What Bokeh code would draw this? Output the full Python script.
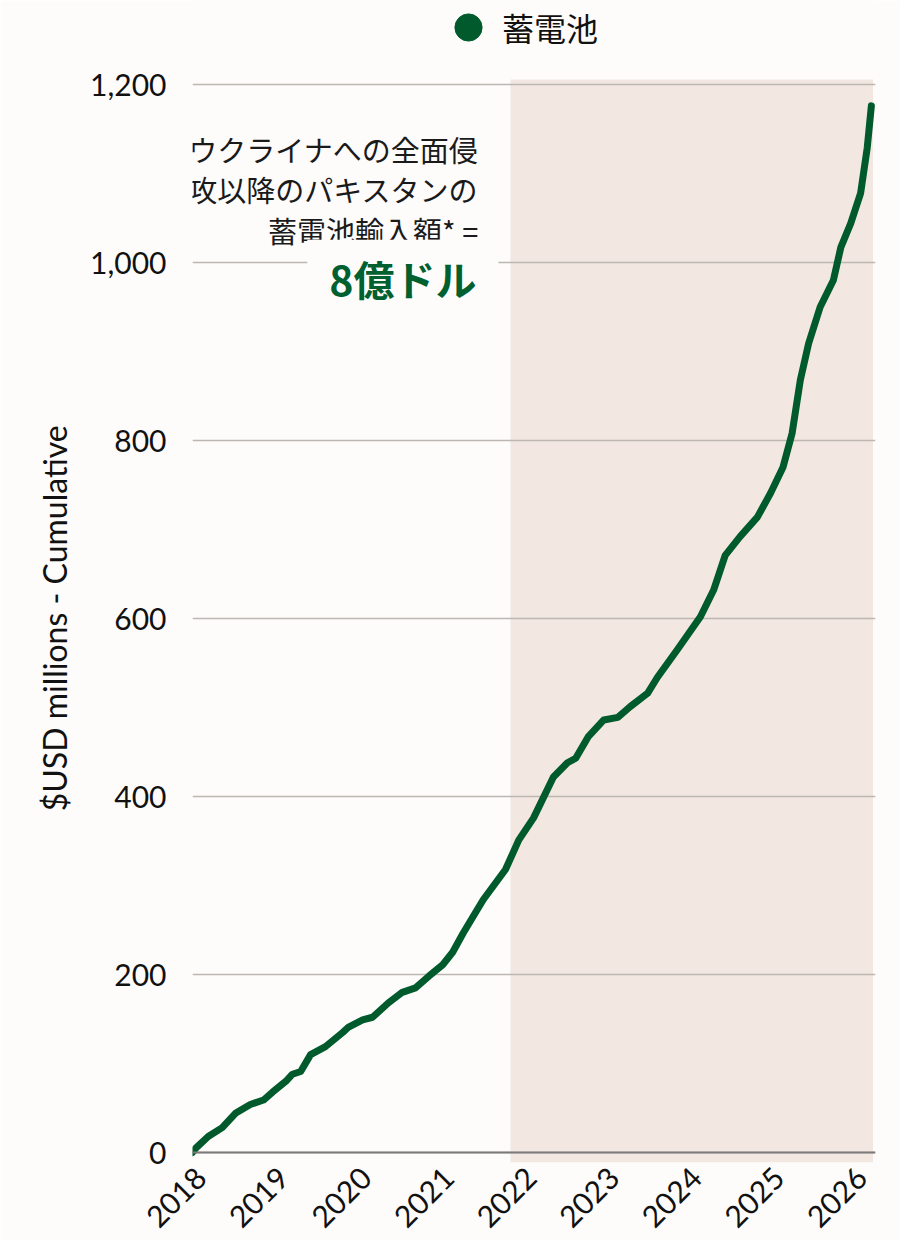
from math import pi
from bokeh.plotting import figure
from bokeh.models import (BoxAnnotation, Span, Label, Legend, LegendItem,
                          FixedTicker, NumeralTickFormatter, Range1d, ColumnDataSource)
from bokeh.embed import file_html
from bokeh.resources import INLINE

# ---- data ----
years = [2017.90, 2017.94, 2018.09, 2018.26, 2018.42, 2018.60, 2018.76, 2018.87,
         2019.03, 2019.11, 2019.21, 2019.33, 2019.51, 2019.72, 2019.79, 2019.96,
         2020.08, 2020.27, 2020.44, 2020.60, 2020.76, 2020.93, 2021.05, 2021.18,
         2021.42, 2021.69, 2021.85, 2022.03, 2022.27, 2022.44, 2022.54, 2022.69,
         2022.88, 2023.05, 2023.20, 2023.41, 2023.53, 2023.77, 2024.05, 2024.21,
         2024.35, 2024.53, 2024.74, 2024.90, 2025.05, 2025.16, 2025.26, 2025.36,
         2025.50, 2025.66, 2025.75, 2025.87, 2025.99, 2026.07, 2026.12]
cumulative = [0, 5, 18, 28, 44, 54, 59, 68,
              80, 88, 91, 110, 119, 135, 141, 149,
              152, 168, 180, 185, 198, 211, 225, 247,
              284, 318, 351, 376, 422, 438, 443, 467,
              486, 489, 501, 516, 534, 565, 602, 632,
              671, 692, 714, 741, 770, 808, 868, 909,
              950, 980, 1017, 1044, 1078, 1129, 1176]
series_name = "蓄電池"
x_ticks = [2018, 2019, 2020, 2021, 2022, 2023, 2024, 2025, 2026]
y_ticks = [0, 200, 400, 600, 800, 1000, 1200]
shade_start = 2021.75
shade_end = 2026.14
shade_top = 1205.7
note_lines = ["ウクライナへの全面侵", "攻以降のパキスタンの", "蓄電池輸入額* ="]
note_value = "8億ドル"
y_title = "$USD millions - Cumulative"

BG = "#fdfcfa"
GREEN = "#005a2c"
TXT = "#111111"
FONT = "Lato"
CJK = "Noto Sans CJK JP"

Y0 = -11.2
p = figure(width=900, height=1240, output_backend="svg", toolbar_location=None,
           x_range=Range1d(2017.9, 2026.17), y_range=Range1d(Y0, 1294.4),
           min_border_left=192, min_border_right=25, min_border_top=0,
           min_border_bottom=77)
p.background_fill_color = BG
p.border_fill_color = BG
p.outline_line_color = None

# shaded period
shade = BoxAnnotation(left=shade_start, right=shade_end, top=shade_top,
                      fill_color="#f3e7e1", fill_alpha=1.0, line_color=None,
                      level="image")
p.add_layout(shade)

# grid
p.xgrid.grid_line_color = None
p.ygrid.ticker = FixedTicker(ticks=y_ticks)
p.ygrid.grid_line_color = "#bdb6b3"
p.ygrid.grid_line_width = 1.5

# baseline
p.add_layout(Span(location=0, dimension="width", line_color="#7a7a7a", line_width=2))

src = ColumnDataSource(dict(x=years, y=cumulative))
line = p.line("x", "y", source=src, line_color=GREEN, line_width=7,
              line_cap="round", line_join="round")

# y axis
p.yaxis.ticker = FixedTicker(ticks=y_ticks)
p.yaxis.formatter = NumeralTickFormatter(format="0,0")
p.yaxis.axis_line_color = None
p.yaxis.major_tick_line_color = None
p.yaxis.minor_tick_line_color = None
p.yaxis.major_label_standoff = 20
p.yaxis.major_label_text_font = FONT
p.yaxis.major_label_text_font_size = "30px"
p.yaxis.major_label_text_color = TXT
# non-breaking spaces shift the centred title down to the plotted area's middle
p.yaxis.axis_label = y_title + "\u00a0" * 9
p.yaxis.axis_label_text_font = FONT
p.yaxis.axis_label_text_font_size = "32px"
p.yaxis.axis_label_text_font_style = "normal"
p.yaxis.axis_label_text_color = TXT
p.yaxis.axis_label_standoff = 13

# x axis
p.xaxis.ticker = FixedTicker(ticks=x_ticks)
p.xaxis.axis_line_color = None
p.xaxis.major_tick_line_color = None
p.xaxis.minor_tick_line_color = None
p.xaxis.major_label_orientation = pi / 4
p.xaxis.major_label_standoff = 4
p.xaxis.major_label_text_font = FONT
p.xaxis.major_label_text_font_size = "30px"
p.xaxis.major_label_text_color = TXT

# annotation text
note_y = [1128, 1083, 1036]
for t, yy in zip(note_lines, note_y):
    p.add_layout(Label(x=2021.36, y=yy, text=t, text_align="right",
                       text_baseline="middle", text_font=CJK,
                       text_font_size="29px", text_color="#1a1a1a"))
p.add_layout(Label(x=2021.605, y=983, text=note_value, text_align="right",
                   text_baseline="middle", text_font=CJK, text_font_size="41px",
                   text_font_style="bold", text_color="#00602f",
                   background_fill_color=BG, background_fill_alpha=1.0,
                   padding=dict(left=22, right=22, top=8, bottom=8)))

# legend (legend marker only; the point itself is not plotted)
dummy = p.scatter(x=[float("nan")], y=[float("nan")], size=27, marker="circle",
                  fill_color=GREEN, line_color=GREEN)
legend = Legend(items=[LegendItem(label=series_name, renderers=[dummy], index=0)],
                location=(242, 1101), orientation="horizontal",
                background_fill_alpha=0, border_line_color=None,
                padding=0, margin=0, glyph_width=68, glyph_height=68,
                label_standoff=0, label_text_font=CJK,
                label_text_font_size="32px", label_text_color=TXT)
p.add_layout(legend, "center")

open("out.html", "w").write(file_html(p, INLINE))
